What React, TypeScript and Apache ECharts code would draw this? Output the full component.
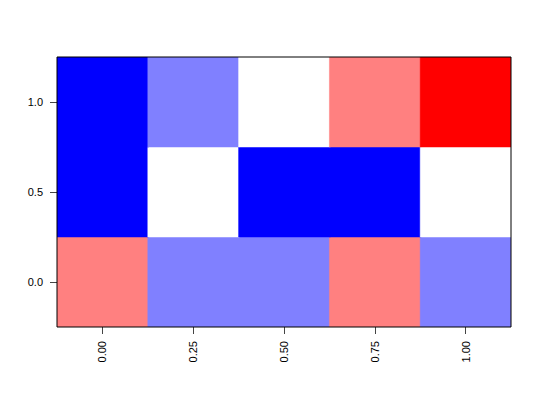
import React, { useEffect, useRef } from "react";
import * as echarts from "echarts";

const xLabels = ["0.00", "0.25", "0.50", "0.75", "1.00"];
const yLabels = ["0.0", "0.5", "1.0"];
// levels: -2 blue, -1 light blue, 0 white, 1 light red, 2 red
const row00 = [1, -1, -1, 1, -1];
const row05 = [-2, 0, -2, -2, 0];
const row10 = [-2, -1, 0, 1, 2];
const levelColors: Record<string, string> = {
  "-2": "#0000FF",
  "-1": "#8080FF",
  "0": "#FFFFFF",
  "1": "#FF8080",
  "2": "#FF0000",
};

export default function App() {
  const ref = useRef<HTMLDivElement>(null);
  useEffect(() => {
    document.body.style.margin = "0";
    if (!ref.current) return;
    const chart = echarts.init(ref.current, undefined, { renderer: "svg" });
    const rows = [row00, row05, row10];
    const data: number[][] = [];
    rows.forEach((r, yi) => r.forEach((v, xi) => data.push([xi, yi, v])));
    const font = "Liberation Sans, Arial, Helvetica, sans-serif";
    chart.setOption({
      animation: false,
      backgroundColor: "#fff",
      grid: {
        left: 57,
        top: 57,
        right: 29,
        bottom: 73,
        show: true,
        borderColor: "#000",
        borderWidth: 1,
        backgroundColor: "transparent",
        z: 10,
      },
      xAxis: {
        type: "category",
        data: xLabels,
        boundaryGap: true,
        axisLine: { show: false },
        axisTick: { show: true, alignWithLabel: true, length: 7, lineStyle: { color: "#444" } },
        axisLabel: { rotate: 90, margin: 14, fontSize: 11, color: "#000", fontFamily: font },
        splitLine: { show: false },
      },
      yAxis: {
        type: "category",
        data: yLabels,
        boundaryGap: true,
        axisLine: { show: false },
        axisTick: { show: true, alignWithLabel: true, length: 7, lineStyle: { color: "#444" } },
        axisLabel: { margin: 14, fontSize: 11, color: "#000", fontFamily: font },
        splitLine: { show: false },
      },
      series: [
        {
          type: "custom",
          clip: true,
          data,
          renderItem: (params: any, api: any) => {
            const c = api.coord([api.value(0), api.value(1)]);
            const s = api.size([1, 1]);
            const color = levelColors[String(api.value(2))];
            return {
              type: "rect",
              shape: { x: c[0] - s[0] / 2, y: c[1] - s[1] / 2 - 1, width: s[0] + 1, height: s[1] + 1 },
              style: { fill: color, stroke: color, lineWidth: 0.5 },
            };
          },
        },
      ],
    });
    return () => chart.dispose();
  }, []);
  return <div ref={ref} style={{ width: 540, height: 400 }} />;
}
